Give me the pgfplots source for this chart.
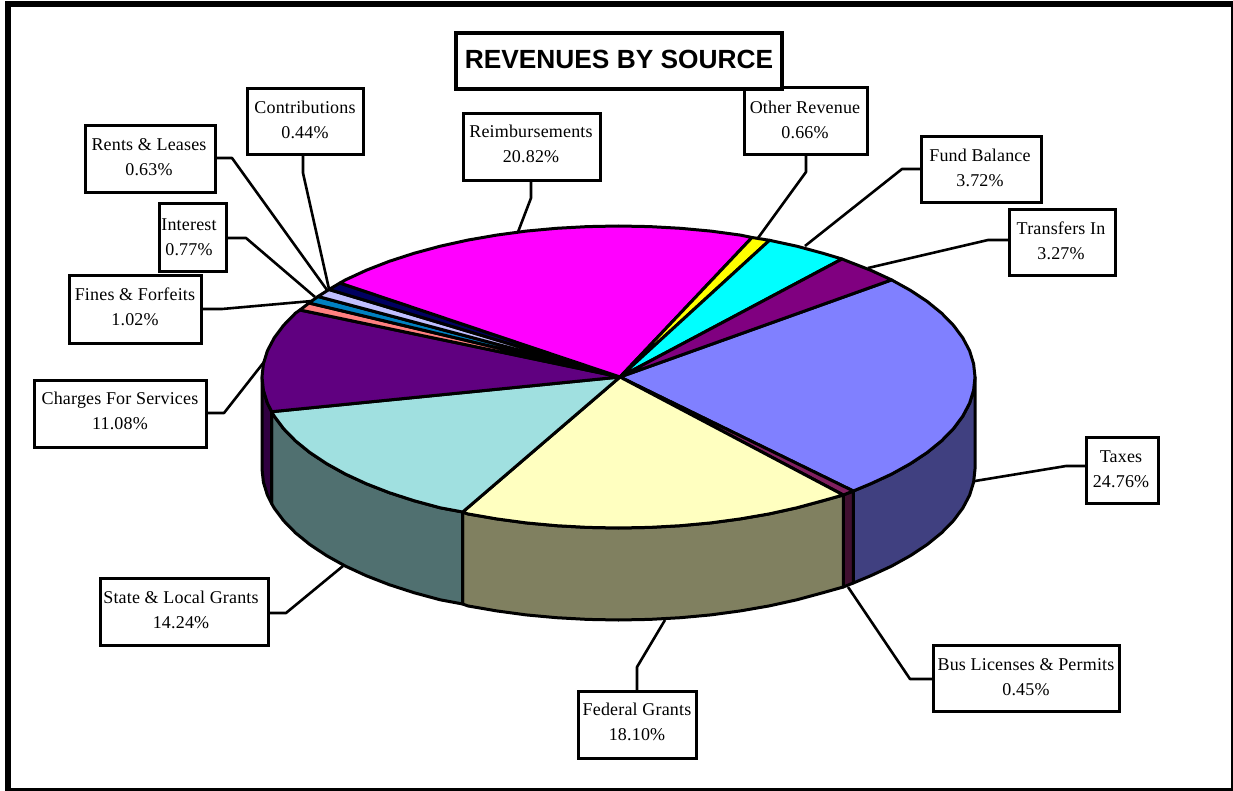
\documentclass[border=0pt]{standalone}
\usepackage{fontspec}
\usepackage{pgfplots}
\pgfplotsset{compat=1.18}
\setmainfont[LetterSpace=1]{Liberation Serif}
\newfontfamily\titlefont{Liberation Sans}
\definecolor{pie1}{HTML}{8080FF}
\definecolor{pie1side}{HTML}{404080}
\definecolor{pie2}{HTML}{802060}
\definecolor{pie2side}{HTML}{401030}
\definecolor{pie3}{HTML}{FFFFC0}
\definecolor{pie3side}{HTML}{808060}
\definecolor{pie4}{HTML}{A0E0E0}
\definecolor{pie4side}{HTML}{507070}
\definecolor{pie5}{HTML}{600080}
\definecolor{pie5side}{HTML}{300040}
\definecolor{pie6}{HTML}{FF8080}
\definecolor{pie7}{HTML}{0080C0}
\definecolor{pie8}{HTML}{C0C0FF}
\definecolor{pie9}{HTML}{000060}
\definecolor{pie10}{HTML}{FF00FF}
\definecolor{pie11}{HTML}{FFFF00}
\definecolor{pie12}{HTML}{00FFFF}
\definecolor{pie13}{HTML}{800080}
% outline of the pie, coordinates are picture pixels
\pgfplotsset{
  slice/.style={draw=black,line width=3pt,line join=round},
  frame/.style={draw=black,fill=white,line width=3pt,line join=miter},
  leader/.style={draw=black,line width=2.6pt,line join=round},
}
\newcommand{\lab}[4]{\node[align=center,font=\fontsize{18}{25}\selectfont,inner sep=0pt] at (axis cs:#1,#2) {#3\\#4};}
\begin{document}
\begin{tikzpicture}
\begin{axis}[
  hide axis, scale only axis, width=1233pt, height=791pt,
  xmin=0, xmax=1233, ymin=0, ymax=791, y dir=reverse,
  clip=false, no markers,
]
\path (axis cs:0,0) rectangle (axis cs:1233,791);
% outer border, four bands
\addplot [draw=none,fill=black] coordinates {(5,1.5) (10.5,1.5) (10.5,791) (5,791)} --cycle;
\addplot [draw=none,fill=black] coordinates {(5,1.5) (1233,1.5) (1233,7) (5,7)} --cycle;
\addplot [draw=none,fill=black] coordinates {(1231,1.5) (1233,1.5) (1233,791) (1231,791)} --cycle;
\addplot [draw=none,fill=black] coordinates {(5,788) (1233,788) (1233,791) (5,791)} --cycle;

% sides
\addplot [slice,fill=pie1side] coordinates {(975,377) (973.6,390.2) (969.6,403.2) (962.8,416.1) (953.5,428.6) (941.6,440.8) (927.2,452.5) (910.5,463.6) (891.6,474.1) (870.6,483.8) (853.3,491) (853.3,583) (870.6,575.8) (891.6,566.1) (910.5,555.6) (927.2,544.5) (941.6,532.8) (953.5,520.6) (962.8,508.1) (969.6,495.2) (973.6,482.2) (975,469)} --cycle;
\addplot [slice,fill=pie2side] coordinates {(853.3,491) (843.3,495) (843.3,587) (853.3,583)} --cycle;
\addplot [slice,fill=pie3side] coordinates {(843.3,495) (823,500.7) (796.8,507.8) (769.2,513.9) (740.4,518.9) (710.8,522.9) (680.4,525.7) (649.6,527.4) (618.5,528) (587.4,527.4) (556.6,525.7) (526.2,522.9) (496.6,518.9) (467.8,513.9) (462.7,512) (462.7,604) (467.8,605.9) (496.6,610.9) (526.2,614.9) (556.6,617.7) (587.4,619.4) (618.5,620) (649.6,619.4) (680.4,617.7) (710.8,614.9) (740.4,610.9) (769.2,605.9) (796.8,599.8) (823,592.7) (843.3,587)} --cycle;
\addplot [slice,fill=pie4side] coordinates {(462.7,512) (440.2,507.8) (414,500.7) (389.3,492.7) (366.4,483.8) (345.4,474.1) (326.5,463.6) (309.8,452.5) (295.4,440.8) (283.5,428.6) (274.2,416.1) (271.7,411.7) (271.7,503.7) (274.2,508.1) (283.5,520.6) (295.4,532.8) (309.8,544.5) (326.5,555.6) (345.4,566.1) (366.4,575.8) (389.3,584.7) (414,592.7) (440.2,599.8) (462.7,604)} --cycle;
\addplot [slice,fill=pie5side] coordinates {(271.7,411.7) (267.4,403.2) (263.4,390.2) (262,377) (262,469) (263.4,482.2) (267.4,495.2) (271.7,503.7)} --cycle;

% top slices
\addplot [slice,fill=pie1] coordinates {(620,377) (891.6,279.9) (910.5,290.4) (927.2,301.5) (941.6,313.2) (953.5,325.4) (962.8,337.9) (969.6,350.8) (973.6,363.8) (975,377) (973.6,390.2) (969.6,403.2) (962.8,416.1) (953.5,428.6) (941.6,440.8) (927.2,452.5) (910.5,463.6) (891.6,474.1) (870.6,483.8) (853.3,491)} --cycle;
\addplot [slice,fill=pie2] coordinates {(620,377) (853.3,491) (843.3,495)} --cycle;
\addplot [slice,fill=pie3] coordinates {(620,377) (843.3,495) (823,500.7) (796.8,507.8) (769.2,513.9) (740.4,518.9) (710.8,522.9) (680.4,525.7) (649.6,527.4) (618.5,528) (587.4,527.4) (556.6,525.7) (526.2,522.9) (496.6,518.9) (467.8,513.9) (462.7,512)} --cycle;
\addplot [slice,fill=pie4] coordinates {(620,377) (462.7,512) (440.2,507.8) (414,500.7) (389.3,492.7) (366.4,483.8) (345.4,474.1) (326.5,463.6) (309.8,452.5) (295.4,440.8) (283.5,428.6) (274.2,416.1) (271.7,411.7)} --cycle;
\addplot [slice,fill=pie5] coordinates {(620,377) (271.7,411.7) (267.4,403.2) (263.4,390.2) (262,377) (263.4,363.8) (267.4,350.8) (274.2,337.9) (283.5,325.4) (295.4,313.2) (300,310)} --cycle;
\addplot [slice,fill=pie6] coordinates {(620,377) (300,310) (309,303)} --cycle;
\addplot [slice,fill=pie7] coordinates {(620,377) (309,303) (318,296.5)} --cycle;
\addplot [slice,fill=pie8] coordinates {(620,377) (318,296.5) (329,289.5)} --cycle;
\addplot [slice,fill=pie9] coordinates {(620,377) (329,289.5) (340,283)} --cycle;
\addplot [slice,fill=pie10] coordinates {(620,377) (340,283) (345.4,279.9) (366.4,270.2) (389.3,261.3) (414,253.3) (440.2,246.2) (467.8,240.1) (496.6,235.1) (526.2,231.1) (556.6,228.3) (587.4,226.6) (618.5,226) (649.6,226.6) (680.4,228.3) (710.8,231.1) (740.4,235.1) (752,237.5)} --cycle;
\addplot [slice,fill=pie11] coordinates {(620,377) (752,237.5) (769.5,240.3)} --cycle;
\addplot [slice,fill=pie12] coordinates {(620,377) (769.5,240.3) (796.8,246.2) (823,253.3) (842,259)} --cycle;
\addplot [slice,fill=pie13] coordinates {(620,377) (842,259) (847.7,261.3) (870.6,270.2) (891.6,279.9)} --cycle;

% leader lines
\addplot [leader] coordinates {(303,155) (303,173) (329,289)};
\addplot [leader] coordinates {(213,158) (232,158) (327,290)};
\addplot [leader] coordinates {(226,238) (246,238) (315,297)};
\addplot [leader] coordinates {(201,309) (222,309) (312,301)};
\addplot [leader] coordinates {(206,413) (224,413) (264,362)};
\addplot [leader] coordinates {(268,613) (286,613) (343,566)};
\addplot [leader] coordinates {(637,691) (637,667) (665,620)};
\addplot [leader] coordinates {(933,679) (910,679) (848,587)};
\addplot [leader] coordinates {(1086,466) (1066,466) (975,481)};
\addplot [leader] coordinates {(1009,240) (988,240) (868,268)};
\addplot [leader] coordinates {(921,169) (902,169) (805,246)};
\addplot [leader] coordinates {(806,155) (806,172) (758,238)};
\addplot [leader] coordinates {(531,181) (531,198) (518,232)};

% label boxes
\addplot [frame] coordinates {(247,89) (363,89) (363,155) (247,155)} --cycle;
\addplot [frame] coordinates {(85,126) (215,126) (215,193) (85,193)} --cycle;
\addplot [frame] coordinates {(159,204) (226,204) (226,272) (159,272)} --cycle;
\addplot [frame] coordinates {(69,276) (201,276) (201,343) (69,343)} --cycle;
\addplot [frame] coordinates {(34,380) (206,380) (206,447) (34,447)} --cycle;
\addplot [frame] coordinates {(100,578) (268,578) (268,645) (100,645)} --cycle;
\addplot [frame] coordinates {(578,691) (696,691) (696,758) (578,758)} --cycle;
\addplot [frame] coordinates {(933,645) (1119,645) (1119,711) (933,711)} --cycle;
\addplot [frame] coordinates {(1086,437) (1158,437) (1158,503) (1086,503)} --cycle;
\addplot [frame] coordinates {(1009,210) (1115,210) (1115,276) (1009,276)} --cycle;
\addplot [frame] coordinates {(921,137) (1041,137) (1041,203) (921,203)} --cycle;
\addplot [frame] coordinates {(744,88) (867,88) (867,155) (744,155)} --cycle;
\addplot [frame] coordinates {(463,114) (600,114) (600,181) (463,181)} --cycle;
\addplot [draw=black,fill=white,line width=3.4pt] coordinates {(456,33) (782,33) (782,89) (456,89)} --cycle;

\node[font=\titlefont\bfseries\fontsize{26.3}{30}\selectfont,inner sep=0pt] at (axis cs:619,59) {REVENUES BY SOURCE};
\lab{305}{120}{Contributions}{0.44\%}
\lab{149}{157}{Rents \& Leases}{0.63\%}
\lab{189}{237}{Interest}{0.77\%}
\lab{135}{307}{Fines \& Forfeits}{1.02\%}
\lab{120}{411}{Charges For Services}{11.08\%}
\lab{181}{610}{State \& Local Grants}{14.24\%}
\lab{637}{722}{Federal Grants}{18.10\%}
\lab{1026}{677}{Bus Licenses \& Permits}{0.45\%}
\lab{1121}{469}{Taxes}{24.76\%}
\lab{1061}{241}{Transfers In}{3.27\%}
\lab{980}{168}{Fund Balance}{3.72\%}
\lab{805}{120}{Other Revenue}{0.66\%}
\lab{531}{144}{Reimbursements}{20.82\%}
\end{axis}
\end{tikzpicture}
\end{document}
